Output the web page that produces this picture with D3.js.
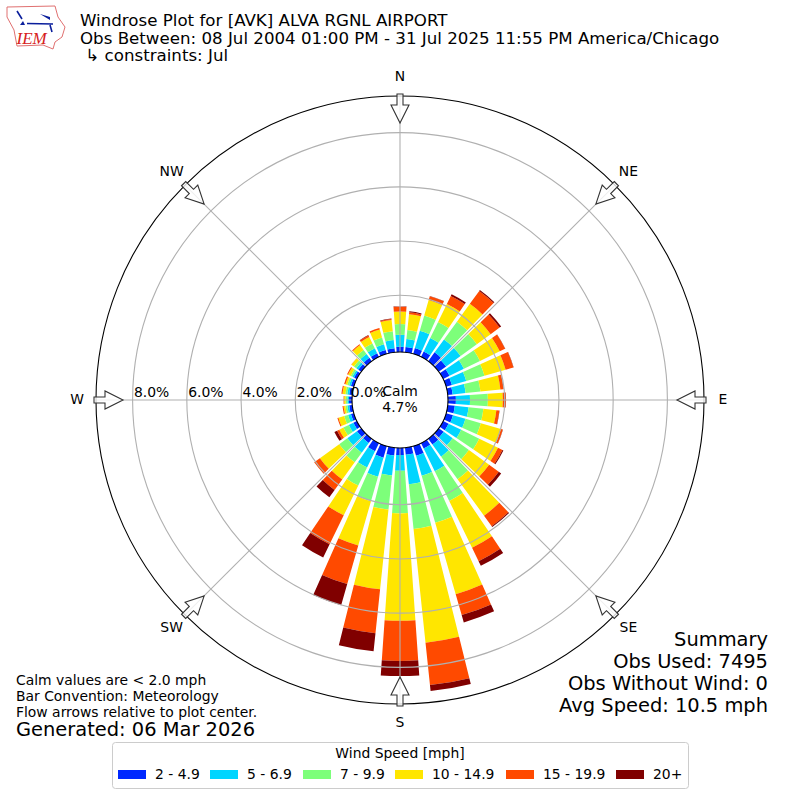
<!DOCTYPE html>
<html>
<head>
<meta charset="utf-8">
<script src="https://cdnjs.cloudflare.com/ajax/libs/d3/7.8.5/d3.min.js"></script>
<style>
html, body { margin: 0; padding: 0; background: #fff; }
text { font-family: "DejaVu Sans", sans-serif; fill: #000; }
</style>
</head>
<body>
<svg id="chart" width="800" height="800"></svg>
<script>
// 36 directions, N first going clockwise, percent of obs per speed class
const directions = d3.range(0, 360, 10);
const speedLabels = ["2 - 4.9", "5 - 6.9", "7 - 9.9", "10 - 14.9", "15 - 19.9", "20+"];
const speedColors = ["#0028ff", "#00d5ff", "#7dff7a", "#ffe600", "#ff4a00", "#800000"];

const bin2to5 = [0.10, 0.10, 0.13, 0.13, 0.31, 0.24, 0.17, 0.13, 0.09, 0.20, 0.17, 0.17, 0.13, 0.13, 0.17, 0.13, 0.28, 0.17, 0.17, 0.20, 0.35, 0.24, 0.10, 0.10, 0.05, 0.02, 0.02, 0.02, 0.02, 0.02, 0.02, 0.04, 0.06, 0.06, 0.06, 0.06];
const bin5to7 = [0.44, 0.30, 0.66, 0.55, 0.59, 0.66, 0.59, 0.55, 0.48, 0.52, 0.51, 0.48, 0.52, 0.41, 0.55, 0.93, 0.76, 1.09, 0.58, 0.74, 0.73, 0.67, 0.44, 0.44, 0.19, 0.11, 0.07, 0.06, 0.07, 0.07, 0.07, 0.09, 0.18, 0.20, 0.22, 0.30];
const bin7to10 = [0.40, 0.33, 0.59, 0.66, 0.81, 0.74, 0.66, 0.70, 0.55, 0.66, 0.55, 0.59, 0.74, 0.74, 1.03, 1.22, 1.81, 1.66, 1.57, 1.26, 0.94, 0.74, 0.44, 0.37, 0.22, 0.15, 0.07, 0.06, 0.07, 0.07, 0.07, 0.11, 0.18, 0.20, 0.26, 0.33];
const bin10to15 = [0.46, 0.59, 0.59, 0.74, 0.81, 0.63, 0.81, 0.81, 0.74, 0.55, 0.48, 0.77, 0.77, 0.92, 1.66, 1.92, 2.74, 4.22, 3.96, 2.96, 1.70, 1.22, 0.78, 0.88, 0.17, 0.22, 0.07, 0.06, 0.11, 0.07, 0.11, 0.11, 0.22, 0.26, 0.30, 0.41];
const bin15to20 = [0.18, 0.07, 0.15, 0.33, 0.59, 0.41, 0.22, 0.30, 0.11, 0.11, 0.11, 0.07, 0.18, 0.44, 0.48, 0.55, 0.80, 1.57, 1.48, 1.63, 1.48, 1.19, 0.48, 0.26, 0.09, 0.04, 0.04, 0.02, 0.04, 0.05, 0.04, 0.01, 0.04, 0.06, 0.06, 0.04];
const bin20up = [0.01, 0.04, 0.01, 0.07, 0.04, 0.07, 0.01, 0.01, 0.01, 0.01, 0.01, 0.01, 0.04, 0.11, 0.04, 0.19, 0.28, 0.22, 0.56, 0.67, 0.81, 0.54, 0.33, 0.00, 0.11, 0.00, 0.00, 0.00, 0.00, 0.00, 0.00, 0.00, 0.00, 0.02, 0.00, 0.02];
const allBins = [bin2to5, bin5to7, bin7to10, bin10to15, bin15to20, bin20up];

const radialTicks = [2, 4, 6, 8];
const compass = [["N", 0], ["NE", 45], ["E", 90], ["SE", 135], ["S", 180], ["SW", 225], ["W", 270], ["NW", 315]];
const titleLines = [
    "Windrose Plot for [AVK] ALVA RGNL AIRPORT",
    "Obs Between: 08 Jul 2004 01:00 PM - 31 Jul 2025 11:55 PM America/Chicago",
    " \u21b3 constraints: Jul"
];
const summaryLines = ["Summary", "Obs Used: 7495", "Obs Without Wind: 0", "Avg Speed: 10.5 mph"];
const noteLines = ["Calm values are < 2.0 mph", "Bar Convention: Meteorology", "Flow arrows relative to plot center."];

const cx = 400, cy = 400, outerR = 304;
const svg = d3.select("#chart");
const plot = svg.append("g").attr("transform", `translate(${cx},${cy})`);

const r_scale = d3.scaleLinear().domain([0, 9.35]).range([50.5, outerR]);
const deg2rad = d => d * Math.PI / 180;
const barWidth = 8.0;

// stacked bars
const arc = d3.arc();
allBins.forEach((bin, k) => {
    plot.append("g")
        .selectAll("path")
        .data(bin)
        .join("path")
        .attr("fill", speedColors[k])
        .attr("d", (d, i) => {
            let base = 0;
            for (let j = 0; j < k; ++j) base += allBins[j][i];
            return arc({
                innerRadius: k == 0 ? 47 : r_scale(base),
                outerRadius: r_scale(base + d),
                startAngle: deg2rad(directions[i] - barWidth / 2),
                endAngle: deg2rad(directions[i] + barWidth / 2)
            });
        });
});

// the grid sits on top of the bars
plot.selectAll(".spoke")
    .data(compass)
    .join("line")
    .attr("x1", d => 48 * Math.sin(deg2rad(d[1])))
    .attr("y1", d => -48 * Math.cos(deg2rad(d[1])))
    .attr("x2", d => outerR * Math.sin(deg2rad(d[1])))
    .attr("y2", d => -outerR * Math.cos(deg2rad(d[1])))
    .attr("stroke", "#b0b0b0")
    .attr("stroke-width", 1.1);
plot.selectAll(".ring")
    .data(radialTicks)
    .join("circle")
    .attr("r", d => r_scale(d))
    .attr("fill", "none")
    .attr("stroke", "#b0b0b0")
    .attr("stroke-width", 1.1);

// center hole and outer frame
plot.append("circle").attr("r", 48).attr("fill", "#fff").attr("stroke", "#000").attr("stroke-width", 1.1);
plot.append("circle").attr("r", outerR).attr("fill", "none").attr("stroke", "#000").attr("stroke-width", 1.1);

// flow arrows pointing at the center
const arrowShape = "M-3,-306 L3,-306 L3,-295 L9,-295 L0,-277 L-9,-295 L-3,-295 Z";
plot.selectAll(".arrow")
    .data(compass)
    .join("path")
    .attr("d", arrowShape)
    .attr("transform", d => `rotate(${d[1]})`)
    .attr("fill", "#fff")
    .attr("fill-opacity", 0.8)
    .attr("stroke", "#333")
    .attr("stroke-width", 1.1);

// compass labels
plot.selectAll(".compassLabel")
    .data(compass)
    .join("text")
    .attr("x", d => 323 * Math.sin(deg2rad(d[1])))
    .attr("y", d => -323 * Math.cos(deg2rad(d[1])) - 1)
    .attr("text-anchor", "middle")
    .attr("dominant-baseline", "central")
    .attr("font-size", 13.9)
    .text(d => d[0]);

// radial tick labels, along the west spoke
plot.selectAll(".rLabel")
    .data([0, 2, 4, 6, 8])
    .join("text")
    .attr("x", d => -r_scale(d) + 19)
    .attr("y", -8)
    .attr("text-anchor", "middle")
    .attr("dominant-baseline", "central")
    .attr("font-size", 13.9)
    .text(d => d3.format(".1f")(d) + "%");

plot.append("text").attr("x", 0).attr("y", -9).attr("text-anchor", "middle")
    .attr("dominant-baseline", "central").attr("font-size", 13.9).text("Calm");
plot.append("text").attr("x", 0).attr("y", 7).attr("text-anchor", "middle")
    .attr("dominant-baseline", "central").attr("font-size", 13.9).text("4.7%");

// title block
svg.append("g").selectAll("text")
    .data(titleLines)
    .join("text")
    .attr("x", 80)
    .attr("y", (d, i) => 26 + i * 17.5)
    .attr("font-size", 16.67)
    .style("white-space", "pre")
    .text(d => d);

// IEM logo
const logo = svg.append("g");
logo.append("path")
    .attr("d", "M7,7 L55,6 L58,17 L65,27 L62,37 L55,42 L53,49 L43,45 L17,46 L14,30 L7,17 Z")
    .attr("fill", "#fff")
    .attr("stroke", "#e07070")
    .attr("stroke-width", 1);
logo.append("path")
    .attr("d", "M17,11 L22,19 M27,23.5 L53,24 M50,25 L52,32")
    .attr("fill", "none")
    .attr("stroke", "#0a1e9c")
    .attr("stroke-width", 1.6);
logo.append("path")
    .attr("d", "M40,14 L50,17 L50,20 Z M20,25 L23,21 L25,25 Z")
    .attr("fill", "#0a1e9c");
logo.append("text")
    .attr("x", 16.5)
    .attr("y", 44)
    .attr("font-size", 17)
    .style("font-family", "'Liberation Serif', serif")
    .style("font-style", "italic")
    .style("fill", "#d62020")
    .text("IEM");

// summary, bottom right
svg.append("g").selectAll("text")
    .data(summaryLines)
    .join("text")
    .attr("x", 768)
    .attr("y", (d, i) => 646 + i * 22)
    .attr("text-anchor", "end")
    .attr("font-size", 19.44)
    .text(d => d);

// notes, bottom left
svg.append("g").selectAll("text")
    .data(noteLines)
    .join("text")
    .attr("x", 16)
    .attr("y", (d, i) => 685 + i * 16)
    .attr("font-size", 13.9)
    .text(d => d);
svg.append("text").attr("x", 16).attr("y", 736).attr("font-size", 19.44).text("Generated: 06 Mar 2026");

// legend
const legend = svg.append("g");
legend.append("rect")
    .attr("x", 112.5).attr("y", 742.5).attr("width", 576).attr("height", 46).attr("rx", 3)
    .attr("fill", "#fff").attr("stroke", "#ccc").attr("stroke-width", 1);
legend.append("text")
    .attr("x", 400).attr("y", 758).attr("text-anchor", "middle").attr("font-size", 13.9)
    .text("Wind Speed [mph]");
const legendX = [118, 210, 303, 395, 506, 616];
speedLabels.forEach((label, i) => {
    legend.append("rect")
        .attr("x", legendX[i]).attr("y", 770).attr("width", 28).attr("height", 9)
        .attr("fill", speedColors[i]);
    legend.append("text")
        .attr("x", legendX[i] + 37).attr("y", 779).attr("font-size", 13.9)
        .text(label);
});
</script>
</body>
</html>
